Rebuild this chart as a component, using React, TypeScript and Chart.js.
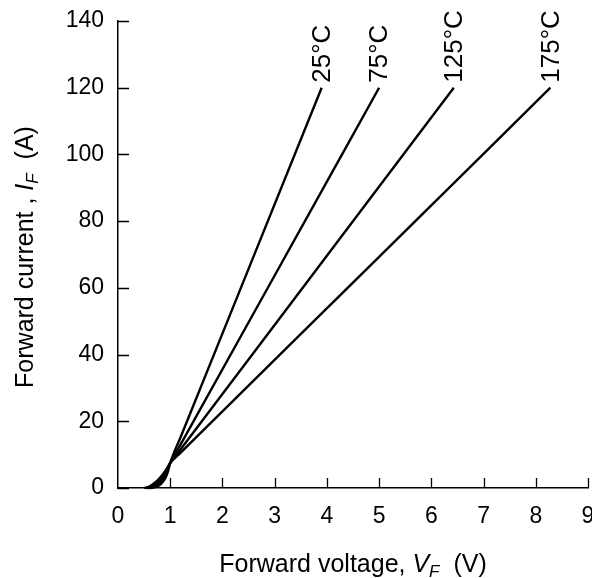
import React, { useEffect, useRef } from "react";
import { Chart, registerables } from "chart.js";

Chart.register(...registerables);

// Forward voltage (V) and forward current (A) per junction temperature
const seriesLabels = ["25°C", "75°C", "125°C", "175°C"];
const v25 = [0.62, 0.72, 0.82, 0.9, 0.95, 1.0, 1.2, 2.5, 3.9];
const i25 = [0, 0.3, 1.2, 2.8, 4.6, 7.5, 15.3, 65.7, 120];
const v75 = [0.58, 0.68, 0.78, 0.86, 0.93, 1.0, 1.2, 3.0, 5.0];
const i75 = [0, 0.3, 1.3, 2.8, 4.6, 7.5, 13.1, 63.7, 120];
const v125 = [0.54, 0.64, 0.74, 0.83, 0.92, 1.0, 1.2, 4.0, 6.43];
const i125 = [0, 0.35, 1.4, 2.9, 4.9, 7.5, 11.6, 69.6, 120];
const v175 = [0.5, 0.6, 0.7, 0.8, 0.9, 1.0, 1.2, 5.0, 8.28];
const i175 = [0, 0.45, 1.5, 3.0, 5.0, 7.5, 10.6, 69.3, 120];

const xTicks = [0, 1, 2, 3, 4, 5, 6, 7, 8, 9];
const yTicks = [0, 20, 40, 60, 80, 100, 120, 140];

const FONT = "'Liberation Sans', Arial, sans-serif";

function toPoints(v: number[], i: number[]) {
  return v.map((x, k) => ({ x, y: i[k] }));
}

const inwardTicks = {
  id: "inwardTicks",
  afterDatasetsDraw(chart: any) {
    const { ctx } = chart;
    const xs = chart.scales.x;
    const ys = chart.scales.y;
    ctx.save();
    ctx.strokeStyle = "#000";
    ctx.lineWidth = 1.3;
    ctx.beginPath();
    yTicks.forEach((t) => {
      const y = Math.round(ys.getPixelForValue(t)) + 0.5;
      ctx.moveTo(xs.left, y);
      ctx.lineTo(xs.left + 11, y);
    });
    xTicks.forEach((t) => {
      if (t === 0) return;
      const x = Math.round(xs.getPixelForValue(t)) + 0.5;
      ctx.moveTo(x, ys.bottom);
      ctx.lineTo(x, ys.bottom - 10);
    });
    ctx.stroke();

    // series labels at line ends
    ctx.fillStyle = "#000";
    ctx.font = `26px ${FONT}`;
    ctx.textAlign = "left";
    ctx.textBaseline = "middle";
    chart.data.datasets.forEach((ds: any, k: number) => {
      const last = ds.data[ds.data.length - 1];
      const px = xs.getPixelForValue(last.x);
      const py = ys.getPixelForValue(last.y);
      ctx.save();
      ctx.translate(px + 1, py - 5);
      ctx.rotate(-Math.PI / 2);
      ctx.fillText(seriesLabels[k], 0, 0);
      ctx.restore();
    });

    // axis titles with italic subscripted symbols
    const drawTitle = (parts: { t: string; f: string; dy: number }[], cx: number, cy: number, rot: number) => {
      ctx.save();
      ctx.translate(cx, cy);
      ctx.rotate(rot);
      ctx.textBaseline = "alphabetic";
      ctx.textAlign = "left";
      let w = 0;
      parts.forEach((p) => {
        ctx.font = p.f;
        w += ctx.measureText(p.t).width;
      });
      let x = -w / 2;
      parts.forEach((p) => {
        ctx.font = p.f;
        ctx.fillText(p.t, x, p.dy);
        x += ctx.measureText(p.t).width;
      });
      ctx.restore();
    };
    const normal = `25px ${FONT}`;
    const ital = `italic 25px ${FONT}`;
    const sub = `italic 17px ${FONT}`;
    drawTitle(
      [
        { t: "Forward voltage, ", f: normal, dy: 0 },
        { t: "V", f: ital, dy: 0 },
        { t: "F", f: sub, dy: 5 },
        { t: "  (V)", f: normal, dy: 0 },
      ],
      (xs.left + xs.right) / 2,
      572,
      0
    );
    drawTitle(
      [
        { t: "Forward current , ", f: normal, dy: 0 },
        { t: "I", f: ital, dy: 0 },
        { t: "F", f: sub, dy: 5 },
        { t: "  (A)", f: normal, dy: 0 },
      ],
      33,
      257,
      -Math.PI / 2
    );
    ctx.restore();
  },
};

function zeroPad(s: any) {
  s.paddingLeft = 0;
  s.paddingRight = 0;
  s.paddingTop = 0;
  s.paddingBottom = 0;
}

export default function App() {
  const ref = useRef<HTMLCanvasElement | null>(null);
  useEffect(() => {
    document.body.style.margin = "0";
    const canvas = ref.current!;
    const datasets = [
      [v25, i25],
      [v75, i75],
      [v125, i125],
      [v175, i175],
    ].map(([v, i], k) => ({
      label: seriesLabels[k],
      data: toPoints(v, i),
      borderColor: "#000",
      borderWidth: 2.4,
      pointRadius: 0,
      cubicInterpolationMode: "monotone" as const,
      clip: false as any,
      fill: false,
    }));
    const chart = new Chart(canvas, {
      type: "line",
      data: { datasets },
      plugins: [inwardTicks],
      options: {
        animation: false,
        responsive: false,
        devicePixelRatio: 1,
        layout: { autoPadding: false, padding: { left: 0, top: 21, right: 4, bottom: 0 } },
        plugins: { legend: { display: false }, tooltip: { enabled: false } },
        scales: {
          x: {
            type: "linear",
            min: 0,
            max: 9,
            afterBuildTicks: (s: any) => {
              s.ticks = xTicks.map((v) => ({ value: v }));
            },
            grid: { display: false, drawTicks: false },
            border: { display: true, color: "#000", width: 1.5 },
            ticks: { color: "#000", font: { family: FONT, size: 23 }, padding: 15, maxRotation: 0, autoSkip: false },
            afterFit: (s: any) => {
              s.height = 90;
              zeroPad(s);
            },
          },
          y: {
            type: "linear",
            min: 0,
            max: 140,
            afterBuildTicks: (s: any) => {
              s.ticks = yTicks.map((v) => ({ value: v }));
            },
            grid: { display: false, drawTicks: false },
            border: { display: true, color: "#000", width: 1.5 },
            ticks: { color: "#000", font: { family: FONT, size: 23 }, padding: 14, autoSkip: false },
            afterFit: (s: any) => {
              s.width = 118;
              zeroPad(s);
            },
          },
        },
      },
    });
    return () => chart.destroy();
  }, []);
  return <canvas ref={ref} width={592} height={578} style={{ display: "block" }} />;
}
